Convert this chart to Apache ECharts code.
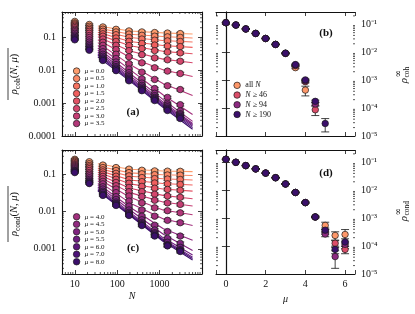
<!DOCTYPE html>
<html><head><meta charset="utf-8">
<script src="https://cdn.jsdelivr.net/npm/echarts@6/dist/echarts.min.js"></script>
<style>html,body{margin:0;padding:0;background:#fff}#c{width:415px;height:314px}</style>
</head><body><div id="c"></div>
<script>
// ---------------- data ----------------
const muValues = [0, 0.5, 1, 1.5, 2, 2.5, 3, 3.5, 4, 4.5, 5, 5.5, 6, 7, 8];
const muLabels = ['0.0','0.5','1.0','1.5','2.0','2.5','3.0','3.5','4.0','4.5','5.0','5.5','6.0','7.0','8.0'];
const Nvalues = [10, 22, 46, 94, 190, 382, 766, 1534, 3070];
const xTickLabelsN = ['10', '100', '1000'];

// panel (a): rho_coh(N, mu), one row per mu
const rhoCoh = [
  [0.31, 0.25, 0.21, 0.178, 0.159, 0.148, 0.142, 0.137, 0.132],
  [0.28, 0.22, 0.18, 0.148, 0.128, 0.117, 0.11, 0.105, 0.101],
  [0.26, 0.195, 0.155, 0.122, 0.101, 0.09, 0.083, 0.079, 0.076],
  [0.24, 0.175, 0.13, 0.097, 0.077, 0.066, 0.059, 0.055, 0.053],
  [0.22, 0.155, 0.11, 0.076, 0.057, 0.046, 0.04, 0.036, 0.034],
  [0.2, 0.135, 0.09, 0.058, 0.04, 0.03, 0.024, 0.021, 0.019],
  [0.18, 0.115, 0.072, 0.043, 0.026, 0.017, 0.012, 0.0095, 0.008],
  [0.165, 0.1, 0.058, 0.031, 0.016, 0.0088, 0.0053, 0.0034, 0.0026],
  [0.15, 0.085, 0.046, 0.023, 0.011, 0.0055, 0.0028, 0.0015, 0.0009],
  [0.135, 0.073, 0.037, 0.018, 0.0085, 0.0041, 0.002, 0.001, 0.00058],
  [0.12, 0.063, 0.031, 0.015, 0.0072, 0.0035, 0.0017, 0.00088, 0.00048],
  [0.11, 0.056, 0.027, 0.013, 0.0064, 0.0031, 0.0015, 0.00078, 0.00044],
  [0.1, 0.05, 0.024, 0.0118, 0.0058, 0.0028, 0.0014, 0.0007, 0.0004],
  [0.092, 0.045, 0.022, 0.0108, 0.0053, 0.0026, 0.0013, 0.00065, 0.00037],
  [0.085, 0.041, 0.02, 0.0098, 0.0048, 0.0024, 0.0012, 0.0006, 0.00034]
];
// panel (c): rho_cond(N, mu)
const rhoCond = [
  [0.25, 0.215, 0.175, 0.15, 0.136, 0.127, 0.122, 0.12, 0.119],
  [0.235, 0.19, 0.15, 0.125, 0.11, 0.102, 0.097, 0.095, 0.094],
  [0.22, 0.17, 0.13, 0.105, 0.09, 0.081, 0.076, 0.074, 0.072],
  [0.205, 0.155, 0.115, 0.088, 0.072, 0.063, 0.058, 0.055, 0.053],
  [0.19, 0.14, 0.1, 0.073, 0.057, 0.047, 0.042, 0.039, 0.037],
  [0.18, 0.125, 0.087, 0.06, 0.044, 0.034, 0.029, 0.026, 0.024],
  [0.17, 0.11, 0.075, 0.049, 0.034, 0.025, 0.02, 0.017, 0.0155],
  [0.16, 0.1, 0.064, 0.04, 0.026, 0.017, 0.0125, 0.0105, 0.0092],
  [0.15, 0.09, 0.055, 0.032, 0.019, 0.011, 0.0075, 0.0058, 0.005],
  [0.14, 0.08, 0.046, 0.025, 0.014, 0.0075, 0.0043, 0.0029, 0.0022],
  [0.13, 0.072, 0.04, 0.021, 0.011, 0.006, 0.0032, 0.0019, 0.0014],
  [0.125, 0.066, 0.035, 0.018, 0.0095, 0.0051, 0.0027, 0.0015, 0.0011],
  [0.12, 0.062, 0.032, 0.0165, 0.0088, 0.0047, 0.0025, 0.0013, 0.00095],
  [0.115, 0.058, 0.029, 0.0155, 0.0082, 0.0044, 0.0023, 0.00125, 0.0009],
  [0.11, 0.056, 0.027, 0.0145, 0.0078, 0.0042, 0.0022, 0.0012, 0.00085]
];
// relative error of each N column
const errRelN = [0.05, 0.05, 0.06, 0.06, 0.07, 0.07, 0.08, 0.08, 0.09];

// fitted lines, sampled at these N
const fitN = [35, 200, 1200, 6000];
const fitCoh = [
  [0.225, 0.158, 0.139, 0.128],
  [0.195, 0.126, 0.107, 0.097],
  [0.17, 0.1, 0.081, 0.073],
  [0.145, 0.076, 0.057, 0.05],
  [0.125, 0.056, 0.038, 0.032],
  [0.105, 0.039, 0.022, 0.017],
  [0.085, 0.025, 0.0105, 0.0065],
  [0.07, 0.015, 0.004, 0.0017],
  [0.057, 0.0105, 0.0018, 0.00045],
  [0.048, 0.008, 0.0013, 0.00028],
  [0.041, 0.0069, 0.0011, 0.00024],
  [0.036, 0.0061, 0.00098, 0.00022],
  [0.032, 0.0056, 0.0009, 0.0002],
  [0.029, 0.0051, 0.00082, 0.00018],
  [0.026, 0.0047, 0.00075, 0.00016]
];
const fitCond = [
  [0.19, 0.135, 0.121, 0.117],
  [0.165, 0.108, 0.096, 0.092],
  [0.145, 0.088, 0.075, 0.07],
  [0.128, 0.07, 0.056, 0.051],
  [0.113, 0.055, 0.04, 0.035],
  [0.1, 0.042, 0.027, 0.022],
  [0.088, 0.032, 0.018, 0.014],
  [0.076, 0.024, 0.011, 0.0082],
  [0.066, 0.017, 0.0064, 0.0042],
  [0.056, 0.013, 0.0035, 0.0017],
  [0.05, 0.011, 0.0025, 0.0009],
  [0.045, 0.0095, 0.002, 0.00068],
  [0.041, 0.0088, 0.0018, 0.0006],
  [0.038, 0.0082, 0.0017, 0.00055],
  [0.036, 0.0078, 0.0016, 0.0005]
];

// panels (b), (d): extrapolated rho^inf vs mu
const muInf = [0, 0.5, 1, 1.5, 2, 2.5, 3, 3.5, 4, 4.5, 5, 5.5, 6];
const infNames = ['all N', 'N ≥ 46', 'N ≥ 94', 'N ≥ 190'];
const cohInfAll = [0.114, 0.094, 0.068, 0.047, 0.031, 0.019, 0.009, 0.0028, 0.00044, null, null, null, null];
const cohInf46  = [0.114, 0.094, 0.068, 0.047, 0.031, 0.019, 0.0091, 0.0033, 0.00088, 0.000087, null, null, null];
const cohInf94  = [0.114, 0.094, 0.068, 0.047, 0.031, 0.019, 0.0092, 0.0035, 0.00095, 0.00014, null, null, null];
const cohInf190 = [0.114, 0.094, 0.068, 0.047, 0.031, 0.019, 0.0092, 0.0036, 0.00102, 0.000174, 0.000028, null, null];
const cohErrAll = [0.02, 0.02, 0.02, 0.02, 0.03, 0.03, 0.05, 0.08, 0.38, null, null, null, null];
const cohErr46  = [0.02, 0.02, 0.02, 0.02, 0.03, 0.03, 0.04, 0.06, 0.1, 0.38, null, null, null];
const cohErr94  = [0.02, 0.02, 0.02, 0.02, 0.03, 0.03, 0.04, 0.06, 0.1, 0.15, null, null, null];
const cohErr190 = [0.02, 0.02, 0.02, 0.02, 0.03, 0.03, 0.04, 0.06, 0.08, 0.1, 0.5, null, null];
const condInfAll = [0.128, 0.1, 0.076, 0.058, 0.041, 0.028, 0.0167, 0.0083, 0.0036, 0.0011, 0.00055, 0.00024, 0.00026];
const condInf46  = [0.128, 0.1, 0.076, 0.058, 0.041, 0.028, 0.0167, 0.0083, 0.0036, 0.0011, 0.00033, 0.000126, 0.000076];
const condInf94  = [0.128, 0.1, 0.076, 0.058, 0.041, 0.028, 0.0167, 0.0083, 0.0036, 0.0011, 0.00027, 0.000042, 0.000115];
const condInf190 = [0.128, 0.1, 0.076, 0.058, 0.041, 0.028, 0.0167, 0.0083, 0.0036, 0.0011, 0.00037, 0.000076, 0.00014];
const condErrAll = [0.02, 0.02, 0.02, 0.02, 0.02, 0.03, 0.03, 0.04, 0.05, 0.06, 0.3, 0.35, 0.5];
const condErr46  = [0.02, 0.02, 0.02, 0.02, 0.02, 0.03, 0.03, 0.04, 0.05, 0.06, 0.2, 0.3, 0.3];
const condErr94  = [0.02, 0.02, 0.02, 0.02, 0.02, 0.03, 0.03, 0.04, 0.05, 0.06, 0.2, 0.62, 0.3];
const condErr190 = [0.02, 0.02, 0.02, 0.02, 0.02, 0.03, 0.03, 0.04, 0.05, 0.06, 0.2, 0.3, 0.3];

// ---------------- styling helpers ----------------
const FONT = 'Liberation Serif';
const INK = '#111';
const magmaStops = ['#000004','#180f3d','#440f76','#721f81','#9e2f7f','#cd4071','#f1605d','#fd9668','#feca8d','#fcfdbf'];
function hexRgb(h){return [1,3,5].map(i=>parseInt(h.substr(i,2),16));}
function magma(t){
  const p = t*(magmaStops.length-1); const i = Math.min(magmaStops.length-2, Math.floor(p)); const f = p-i;
  const a = hexRgb(magmaStops[i]), b = hexRgb(magmaStops[i+1]);
  return 'rgb(' + a.map((v,k)=>Math.round(v+(b[k]-v)*f)).join(',') + ')';
}
const muColors = muValues.map((m,i)=>magma(0.79 - i*(0.79-0.2)/(muValues.length-1)));
const infColors = [magma(0.78), magma(0.6), magma(0.4), magma(0.2)];
const muNames = muLabels.map(l=>'μ = ' + l);

const grids = [
  {left: 62, top: 12, width: 140, height: 124},
  {left: 216, top: 12, width: 139, height: 124},
  {left: 62, top: 150, width: 140, height: 124},
  {left: 216, top: 150, width: 139, height: 124}
];
const isDecade = v => { const l = Math.log10(v); return Math.abs(l - Math.round(l)) < 1e-6; };
const supMap = {'1':'¹','2':'²','3':'³','4':'⁴','5':'⁵','6':'⁶'};
const lbl = {fontFamily: FONT, fontSize: 10, color: INK};
const tickStyle = {show: true, inside: true, length: 4, lineStyle: {color: INK, width: 0.8}};
const lineStyle = {show: true, lineStyle: {color: INK, width: 1.1}};

function nFormatter(v){ if (!isDecade(v)) return ''; const s = String(Math.round(v)); return xTickLabelsN.indexOf(s) >= 0 ? s : ''; }
function decFormatter(v){ if (!isDecade(v)) return ''; const k = Math.round(Math.log10(v)); return k < 0 ? v.toFixed(-k) : String(Math.round(v)); }
function powFormatter(v){ if (!isDecade(v)) return ''; const k = Math.round(Math.log10(v)); return '10' + (k<0?'⁻':'') + String(Math.abs(k)).split('').map(c=>supMap[c]||c).join(''); }
function muFormatter(v){ return Math.abs(v - Math.round(v)) < 1e-9 ? String(Math.round(v)) : ''; }

const xAxes = [], yAxes = [];
function logX(g, pos, showLabel){
  return {type:'log', gridIndex:g, position:pos, min:5, max:10000, logBase:10,
    axisLine: lineStyle, axisTick: tickStyle, splitLine:{show:false},
    axisLabel:{show:showLabel, formatter:nFormatter, margin:5, ...lbl, showMinLabel:true, showMaxLabel:true}};
}
function muX(g, pos, showLabel){
  return {type:'value', gridIndex:g, position:pos, min:-0.5, max:6.5, splitNumber:4,
    axisLine: lineStyle, axisTick: tickStyle, splitLine:{show:false},
    axisLabel:{show:showLabel, formatter:muFormatter, margin:5, ...lbl}};
}
function logY(g, pos, min, max, showLabel, fmt){
  return {type:'log', gridIndex:g, position:pos, min:min, max:max, logBase:10,
    axisLine: lineStyle, axisTick: tickStyle, splitLine:{show:false},
    axisLabel:{show:showLabel, formatter:fmt, margin:6, ...lbl}};
}
xAxes.push(logX(0,'bottom',false), logX(0,'top',false));
xAxes.push(muX(1,'bottom',false), muX(1,'top',false));
xAxes.push(logX(2,'bottom',true), logX(2,'top',false));
xAxes.push(muX(3,'bottom',true), muX(3,'top',false));
yAxes.push(logY(0,'left',1e-4,0.6,true,decFormatter), logY(0,'right',1e-4,0.6,false,decFormatter));
yAxes.push(logY(1,'left',1e-5,0.275,false,powFormatter), logY(1,'right',1e-5,0.275,true,powFormatter));
yAxes.push(logY(2,'left',2.12e-4,0.443,true,decFormatter), logY(2,'right',2.12e-4,0.443,false,decFormatter));
yAxes.push(logY(3,'left',1e-5,0.275,false,powFormatter), logY(3,'right',1e-5,0.275,true,powFormatter));

const series = [];
function errSeries(xi, yi, data, color){
  return {type:'custom', xAxisIndex:xi, yAxisIndex:yi, z:3, silent:true, animation:false,
    encode:{x:0, y:1}, data:data,
    renderItem:(params, api)=>{
      const x = api.value(0), lo = api.value(2), hi = api.value(3);
      const a = api.coord([x, hi]), b = api.coord([x, lo]); const cw = 4;
      const st = {stroke: color || INK, lineWidth: 0.8};
      return {type:'group', children:[
        {type:'line', shape:{x1:a[0], y1:a[1], x2:b[0], y2:b[1]}, style:st},
        {type:'line', shape:{x1:a[0]-cw, y1:a[1], x2:a[0]+cw, y2:a[1]}, style:st},
        {type:'line', shape:{x1:b[0]-cw, y1:b[1], x2:b[0]+cw, y2:b[1]}, style:st}
      ]};
    }};
}
function addNPanel(rows, fits, xi, yi){
  muValues.forEach((m,i)=>{
    series.push({type:'line', xAxisIndex:xi, yAxisIndex:yi, data:fitN.map((n,j)=>[n, fits[i][j]]),
      showSymbol:false, symbol:'none', lineStyle:{color:muColors[i], width:1.1}, z:2, silent:true, animation:false});
  });
  muValues.forEach((m,i)=>{
    series.push(errSeries(xi, yi, Nvalues.map((n,j)=>[n, rows[i][j], rows[i][j]*(1-errRelN[j]), rows[i][j]*(1+errRelN[j])])));
    series.push({type:'scatter', name:muNames[i], xAxisIndex:xi, yAxisIndex:yi,
      data:Nvalues.map((n,j)=>[n, rows[i][j]]), symbol:'circle', symbolSize:6.5,
      itemStyle:{color:muColors[i], borderColor:'#1a1a1a', borderWidth:0.7, opacity:1}, z:4, animation:false});
  });
}
function addInfPanel(vals, errs, xi, yi){
  vals.forEach((arr, s)=>{
    const pts = [], eb = [];
    muInf.forEach((m,j)=>{ if (arr[j] != null){ pts.push([m, arr[j]]); eb.push([m, arr[j], arr[j]*(1-errs[s][j]), arr[j]*(1+errs[s][j])]); } });
    series.push(errSeries(xi, yi, eb));
    series.push({type:'scatter', name:infNames[s], xAxisIndex:xi, yAxisIndex:yi, data:pts, symbol:'circle', symbolSize:6.5,
      itemStyle:{color:infColors[s], borderColor:'#1a1a1a', borderWidth:0.7, opacity:1}, z:4, animation:false});
  });
}
addNPanel(rhoCoh, fitCoh, 0, 0);
addInfPanel([cohInfAll, cohInf46, cohInf94, cohInf190], [cohErrAll, cohErr46, cohErr94, cohErr190], 2, 2);
addNPanel(rhoCond, fitCond, 4, 4);
addInfPanel([condInfAll, condInf46, condInf94, condInf190], [condErrAll, condErr46, condErr94, condErr190], 6, 6);

// minor log ticks drawn through the axes' own scales
function minorTicks(xi, yi, xLog, xRef, yRef, xRange, yRange){
  const data = [];
  const decs = (r)=>{ const out=[]; for (let e=Math.floor(Math.log10(r[0])); e<=Math.ceil(Math.log10(r[1])); e++) for (let k=2;k<=9;k++){ const v=k*Math.pow(10,e); if (v>r[0] && v<r[1]) out.push(v);} return out; };
  if (xLog) decs(xRange).forEach(v=>data.push([v, yRef, 0]));
  decs(yRange).forEach(v=>data.push([xRef, v, 1]));
  series.push({type:'custom', xAxisIndex:xi, yAxisIndex:yi, z:6, silent:true, animation:false, encode:{x:0,y:1}, data:data,
    renderItem:(params, api)=>{
      const cs = params.coordSys; const p = api.coord([api.value(0), api.value(1)]); const L = 2;
      const st = {stroke: INK, lineWidth: 0.7};
      if (api.value(2) === 0){
        const x = p[0]; const yb = cs.y + cs.height, yt = cs.y;
        return {type:'group', children:[
          {type:'line', shape:{x1:x, y1:yb, x2:x, y2:yb-L}, style:st},
          {type:'line', shape:{x1:x, y1:yt, x2:x, y2:yt+L}, style:st}]};
      } else {
        const y = p[1]; const xl = cs.x, xr = cs.x + cs.width;
        return {type:'group', children:[
          {type:'line', shape:{x1:xl, y1:y, x2:xl+L, y2:y}, style:st},
          {type:'line', shape:{x1:xr, y1:y, x2:xr-L, y2:y}, style:st}]};
      }
    }});
}
minorTicks(0, 0, true, 100, 0.01, [5, 10000], [1e-4, 0.6]);
minorTicks(2, 2, false, 0, 0.001, [0, 1], [1e-5, 0.275]);
minorTicks(4, 4, true, 100, 0.01, [5, 10000], [2.12e-4, 0.443]);
minorTicks(6, 6, false, 0, 0.001, [0, 1], [1e-5, 0.275]);

const legendBase = {orient:'vertical', icon:'circle', selectedMode:false, padding:0, itemGap:0,
  itemStyle:{borderColor:'#1a1a1a', borderWidth:0.7}};
const muRich = {i:{fontFamily:FONT, fontStyle:'italic', fontSize:7, color:INK, lineHeight:7.5}};
const legends = [
  {...legendBase, data:muNames.slice(0,8), left:73, top:67.3, itemWidth:6.5, itemHeight:6.5,
   formatter:n=>'{i|μ} = ' + n.split('= ')[1], textStyle:{fontFamily:FONT, fontSize:7, lineHeight:7.5, color:INK, rich:muRich}},
  {...legendBase, data:muNames.slice(8), left:73, top:213, itemWidth:6.5, itemHeight:6.5,
   formatter:n=>'{i|μ} = ' + n.split('= ')[1], textStyle:{fontFamily:FONT, fontSize:7, lineHeight:7.5, color:INK, rich:muRich}},
  {...legendBase, data:infNames, left:233.5, top:80.5, itemWidth:6.5, itemHeight:6.5,
   formatter:n=>n.replace('N', '{i|N}'),
   textStyle:{fontFamily:FONT, fontSize:8, lineHeight:9.7, color:INK,
     rich:{i:{fontFamily:FONT, fontStyle:'italic', fontSize:8, color:INK, lineHeight:9.7}}}}
];

const tRich = (sz)=>({
  r:{fontFamily:FONT, fontStyle:'italic', fontSize:sz, fill:INK, lineHeight:13, verticalAlign:'top'},
  p:{fontFamily:FONT, fontSize:sz, fill:INK, lineHeight:13, verticalAlign:'top'},
  i:{fontFamily:FONT, fontStyle:'italic', fontSize:sz, fill:INK, lineHeight:13, verticalAlign:'top'},
  s:{fontFamily:FONT, fontSize:7.5, fill:INK, lineHeight:9, padding:[6,0,0,0], verticalAlign:'top'}
});
function leftTitle(cx, cy, sub, half){
  return {type:'group', x:cx, y:cy, rotation:Math.PI/2, children:[
    {type:'text', x:0, y:0, style:{text:'{r|ρ}{s|'+sub+'}{p|(}{i|N}{p|, }{i|μ}{p|)}', rich:tRich(10.5), align:'center', verticalAlign:'middle'}},
    {type:'line', shape:{x1:-half, y1:-7, x2:half, y2:-7}, style:{stroke:INK, lineWidth:0.8}}
  ]};
}
function rightTitle(cx, cy, sub){
  return {type:'group', x:cx, y:cy, rotation:Math.PI/2, children:[
    {type:'text', x:-4, y:1, style:{text:'ρ', font:'italic 11px "'+FONT+'"', fill:INK, align:'right', verticalAlign:'middle'}},
    {type:'text', x:-3.5, y:-4.5, style:{text:'∞', font:'9px "DejaVu Serif"', fill:INK, align:'left', verticalAlign:'middle'}},
    {type:'text', x:-3.5, y:4, style:{text:sub, font:'7.5px "'+FONT+'"', fill:INK, align:'left', verticalAlign:'middle'}}
  ]};
}
const graphic = [
  leftTitle(15, 74, 'coh', 26),
  leftTitle(15, 214, 'cond', 28),
  rightTitle(403, 74, 'coh'),
  rightTitle(403, 212, 'cond'),
  {type:'text', x:133, y:112, style:{text:'(a)', font:'bold 11px "'+FONT+'"', fill:INK, align:'center', verticalAlign:'middle'}},
  {type:'text', x:326, y:33, style:{text:'(b)', font:'bold 11px "'+FONT+'"', fill:INK, align:'center', verticalAlign:'middle'}},
  {type:'text', x:133, y:248, style:{text:'(c)', font:'bold 11px "'+FONT+'"', fill:INK, align:'center', verticalAlign:'middle'}},
  {type:'text', x:326, y:173, style:{text:'(d)', font:'bold 11px "'+FONT+'"', fill:INK, align:'center', verticalAlign:'middle'}},
  {type:'text', x:132, y:296, style:{text:'N', font:'italic 10px "'+FONT+'"', fill:INK, align:'center', verticalAlign:'middle'}},
  {type:'text', x:285.5, y:299, style:{text:'μ', font:'italic 10px "'+FONT+'"', fill:INK, align:'center', verticalAlign:'middle'}}
];

const chart = echarts.init(document.getElementById('c'), null, {renderer:'canvas'});
chart.setOption({
  animation:false, backgroundColor:'#fff',
  textStyle:{fontFamily:FONT},
  grid:grids, xAxis:xAxes, yAxis:yAxes, series:series, legend:legends, graphic:graphic
});
</script></body></html>
